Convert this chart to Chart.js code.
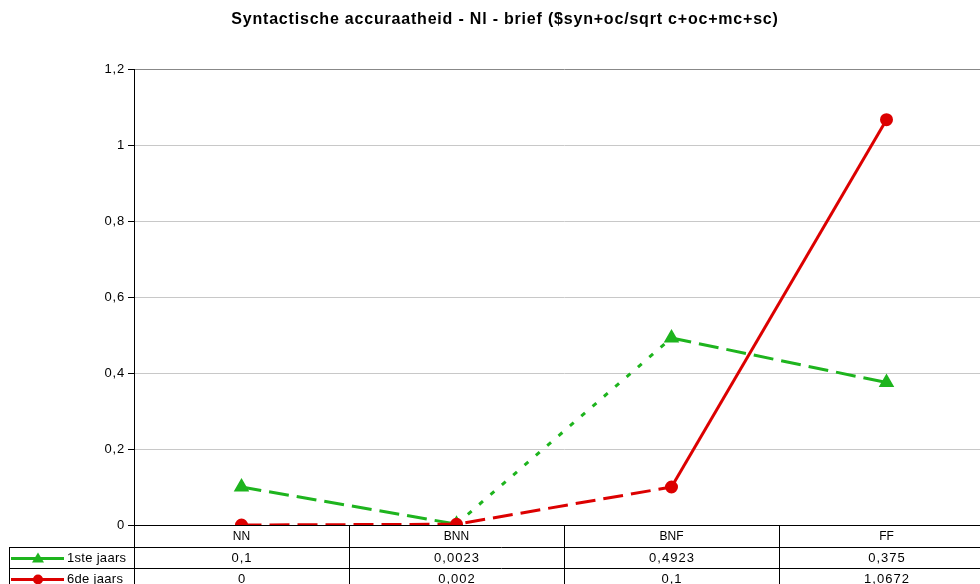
<!DOCTYPE html>
<html>
<head>
<meta charset="utf-8">
<script src="https://cdn.jsdelivr.net/npm/chart.js@4"></script>
<style>
    html, body { margin: 0; padding: 0; background: #fff; overflow: hidden; }
    #wrap { width: 980px; height: 584px; overflow: hidden; position: relative; }
    canvas { display: block; }
</style>
</head>
<body>
<div id="wrap">
    <canvas id="chart" width="1010" height="600"></canvas>
</div>
<script>
// Gegevens
const categories = ['NN', 'BNN', 'BNF', 'FF'];
const series1Label = '1ste jaars';
const series1Values = [0.1, 0.0023, 0.4923, 0.375];
const series2Label = '6de jaars';
const series2Values = [0, 0.002, 0.1, 1.0672];
const yTicks = [0, 0.2, 0.4, 0.6, 0.8, 1, 1.2];

const GREEN = 'rgb(30,180,30)';
const RED = 'rgb(220,0,0)';
const FONT = "'Liberation Sans', Arial, sans-serif";

// lijnstijl per segment
const DASH = [20, 8];
const DOT = [5, 10];
const series1Segments = [DASH, DOT, DASH];
const series2Segments = [DASH, DASH, []];

function fmt(v) {
    return String(v).replace('.', ',');
}

// Excel-achtige letterafstand: titel en asgetallen
const spacingPlugin = {
    id: 'spacing',
    beforeDraw(chart) {
        chart.ctx.letterSpacing = '0.8px';
    },
    beforeDatasetsDraw(chart) {
        chart.ctx.letterSpacing = '1px';
    }
};

// Tabel onder de grafiek
const dataTablePlugin = {
    id: 'dataTable',
    afterDraw(chart) {
        const ctx = chart.ctx;
        const xs = chart.scales.x;
        const area = chart.chartArea;
        const half = (xs.getPixelForValue(1) - xs.getPixelForValue(0)) / 2;
        const headerH = 22;
        const rowH = 21;
        const tableLeft = 9;
        const right = area.right;
        const rows = [
            { label: series1Label, values: series1Values, color: GREEN, marker: 'triangle' },
            { label: series2Label, values: series2Values, color: RED, marker: 'circle' }
        ];

        ctx.save();
        ctx.strokeStyle = '#000';
        ctx.lineWidth = 1;
        ctx.beginPath();
        // horizontale lijnen
        for (let i = 0; i <= rows.length; i++) {
            const y = Math.round(area.bottom + headerH + i * rowH) + 0.5;
            ctx.moveTo(tableLeft, y);
            ctx.lineTo(right, y);
        }
        // verticale lijnen
        const bottom = area.bottom + headerH + rows.length * rowH;
        ctx.moveTo(tableLeft + 0.5, area.bottom + headerH);
        ctx.lineTo(tableLeft + 0.5, bottom);
        ctx.moveTo(area.left + 0.5, area.top);
        ctx.lineTo(area.left + 0.5, bottom);
        categories.forEach((c, i) => {
            const x = Math.round(xs.getPixelForValue(i) + half) + 0.5;
            ctx.moveTo(x, area.bottom);
            ctx.lineTo(x, bottom);
        });
        ctx.stroke();

        ctx.fillStyle = '#000';
        ctx.font = '12px ' + FONT;
        ctx.textAlign = 'center';
        ctx.textBaseline = 'middle';
        ctx.letterSpacing = '0px';
        categories.forEach((c, i) => {
            ctx.fillText(c, xs.getPixelForValue(i), area.bottom + headerH / 2 + 1);
        });

        ctx.font = '13px ' + FONT;
        rows.forEach((row, r) => {
            const cy = area.bottom + headerH + r * rowH + rowH / 2 + 1;
            ctx.textAlign = 'center';
            ctx.fillStyle = '#000';
            ctx.letterSpacing = '1px';
            row.values.forEach((v, i) => {
                ctx.fillText(fmt(v), xs.getPixelForValue(i) + 0.5, cy);
            });
            // legendasleutel
            ctx.strokeStyle = row.color;
            ctx.lineWidth = 3;
            ctx.beginPath();
            ctx.moveTo(11, cy);
            ctx.lineTo(64, cy);
            ctx.stroke();
            ctx.fillStyle = row.color;
            ctx.beginPath();
            if (row.marker === 'triangle') {
                ctx.moveTo(38, cy - 6);
                ctx.lineTo(44, cy + 4);
                ctx.lineTo(32, cy + 4);
                ctx.closePath();
            } else {
                ctx.arc(38, cy, 5, 0, Math.PI * 2);
            }
            ctx.fill();
            ctx.fillStyle = '#000';
            ctx.textAlign = 'left';
            ctx.letterSpacing = '0.3px';
            ctx.fillText(row.label, 67, cy);
        });
        ctx.restore();
    }
};

const chart = new Chart(document.getElementById('chart'), {
    type: 'line',
    data: {
        labels: categories,
        datasets: [{
            label: series1Label,
            data: series1Values,
            borderColor: GREEN,
            backgroundColor: GREEN,
            borderWidth: 3,
            pointStyle: 'triangle',
            pointRadius: 6,
            pointHoverRadius: 6,
            tension: 0,
            order: 1,
            segment: {
                borderDash: c => series1Segments[c.p0DataIndex]
            }
        }, {
            label: series2Label,
            data: series2Values,
            borderColor: RED,
            backgroundColor: RED,
            borderWidth: 3,
            pointStyle: 'circle',
            pointRadius: 5,
            pointHoverRadius: 5,
            tension: 0,
            order: 0,
            segment: {
                borderDash: c => series2Segments[c.p0DataIndex]
            }
        }]
    },
    options: {
        responsive: false,
        animation: false,
        devicePixelRatio: 1,
        layout: { padding: { left: 16, right: 16, top: 0, bottom: 0 } },
        plugins: {
            legend: { display: false },
            tooltip: { enabled: false },
            title: {
                display: true,
                text: 'Syntactische accuraatheid - Nl - brief ($syn+oc/sqrt c+oc+mc+sc)',
                color: '#000',
                font: { family: FONT, size: 16, weight: 'bold' },
                padding: { top: 10, bottom: 40 }
            }
        },
        scales: {
            x: {
                offset: true,
                grid: { display: false },
                border: { color: '#000', width: 1 },
                ticks: { display: false },
                afterFit: s => { s.height = 75; }
            },
            y: {
                min: 0,
                max: 1.2,
                afterBuildTicks: s => { s.ticks = yTicks.map(v => ({ value: v })); },
                border: { color: '#000', width: 1 },
                grid: {
                    color: c => (c.tick && c.tick.value === 1.2 ? '#888' : '#c8c8c8'),
                    tickColor: '#000',
                    tickLength: 6
                },
                ticks: {
                    color: '#000',
                    padding: 3,
                    font: { family: FONT, size: 13 },
                    callback: v => fmt(Number(v.toFixed(4)))
                },
                afterFit: s => { s.width = 118; }
            }
        }
    },
    plugins: [spacingPlugin, dataTablePlugin]
});
</script>
</body>
</html>
